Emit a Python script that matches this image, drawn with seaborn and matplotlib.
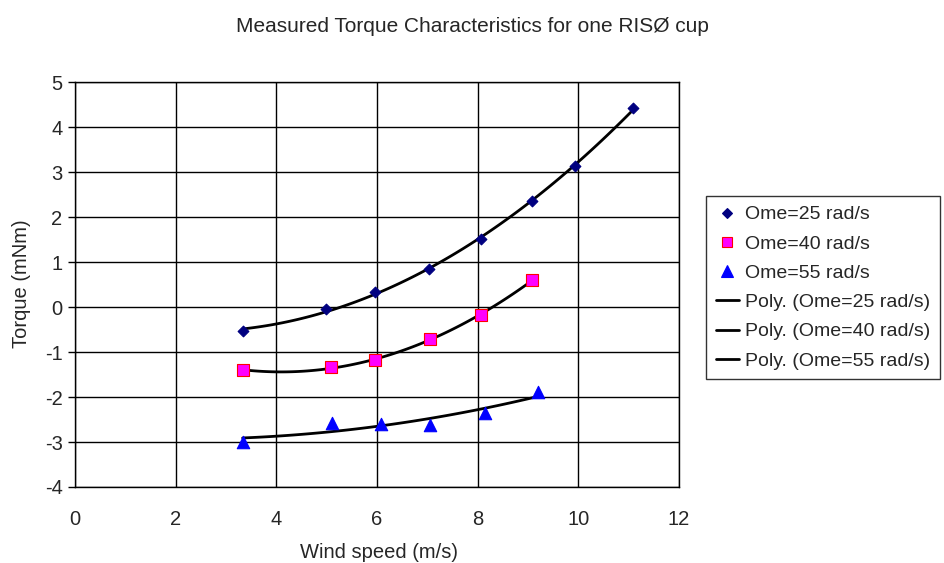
import matplotlib
matplotlib.use("Agg")
import matplotlib.pyplot as plt
import seaborn as sns
import pandas as pd
from matplotlib.lines import Line2D

# Data
ws25 = [3.33, 4.99, 5.96, 7.03, 8.07, 9.08, 9.93, 11.09]
tq25 = [-0.53, -0.05, 0.33, 0.84, 1.51, 2.36, 3.13, 4.42]
ws40 = [3.33, 5.09, 5.96, 7.05, 8.07, 9.08]
tq40 = [-1.40, -1.34, -1.18, -0.71, -0.18, 0.60]
ws55 = [3.33, 5.11, 6.08, 7.05, 8.15, 9.20]
tq55 = [-2.99, -2.58, -2.60, -2.62, -2.36, -1.88]

labels = ["Ome=25 rad/s", "Ome=40 rad/s", "Ome=55 rad/s"]
title = "Measured Torque Characteristics for one RISØ cup"
xlabel = "Wind speed (m/s)"
ylabel = "Torque (mNm)"
xticks = [0, 2, 4, 6, 8, 10, 12]
yticks = [-4, -3, -2, -1, 0, 1, 2, 3, 4, 5]

sns.set_style("white")
plt.rcParams["font.family"] = ["Liberation Sans", "DejaVu Sans"]

fig = plt.figure(figsize=(9.44, 5.63), dpi=100)
ax = fig.add_axes([75 / 944, 1 - 487 / 563, 604 / 944, 405 / 563])

styles = [
    dict(marker="D", color="#000080", edgecolor="#000080", s=30, ms=5.5),
    dict(marker="s", color="#FF00FF", edgecolor="#FF0000", s=70, ms=7.5),
    dict(marker="^", color="#0000FF", edgecolor="#0000FF", s=80, ms=8.5),
]
series = [(ws25, tq25), (ws40, tq40), (ws55, tq55)]

handles = []
for (x, y), st, lab in zip(series, styles, labels):
    df = pd.DataFrame({"x": x, "y": y})
    sns.regplot(data=df, x="x", y="y", order=2, ci=None, scatter=False, ax=ax,
                line_kws=dict(color="black", linewidth=2, zorder=3))
for (x, y), st, lab in zip(series, styles, labels):
    df = pd.DataFrame({"x": x, "y": y})
    sns.scatterplot(data=df, x="x", y="y", ax=ax, marker=st["marker"], color=st["color"],
                    edgecolor=st["edgecolor"], s=st["s"], linewidth=0.8, zorder=4, legend=False)
    handles.append(Line2D([], [], linestyle="none", marker=st["marker"], markerfacecolor=st["color"],
                          markeredgecolor=st["edgecolor"], markersize=st["ms"], markeredgewidth=0.8,
                          label=lab))
for lab in labels:
    handles.append(Line2D([], [], color="black", linewidth=2, label="Poly. (" + lab + ")"))

ax.set_xlim(0, 12)
ax.set_ylim(-4, 5)
ax.set_xticks(xticks)
ax.set_yticks(yticks)
ax.set_xticklabels([str(t) for t in xticks])
ax.set_yticklabels([str(t) for t in yticks])
ax.grid(True, color="black", linewidth=1)
ax.set_axisbelow(True)
for sp in ax.spines.values():
    sp.set_color("black")
    sp.set_linewidth(1)
ax.tick_params(axis="x", length=0, pad=16.5, labelsize=14.5)
ax.tick_params(axis="y", length=5, width=1, color="black", pad=4, labelsize=14.5, left=True)
ax.set_xlabel("")
ax.set_ylabel("")

fig.text(379 / 944, 1 - 552 / 563, xlabel, ha="center", va="center", fontsize=14.5)
fig.text(22 / 944, 1 - 284 / 563, ylabel, ha="center", va="center", fontsize=14.5, rotation=90)
fig.text(472 / 944, 1 - 27 / 563, title, ha="center", va="center", fontsize=15)

leg = fig.legend(handles=handles, loc="upper left", bbox_to_anchor=(706 / 944, 1 - 196 / 563),
                 fontsize=14, frameon=True, fancybox=False, handlelength=1.2, handletextpad=0.3,
                 labelspacing=0.6, borderpad=0.5, borderaxespad=0)
leg.get_frame().set_edgecolor("black")
leg.get_frame().set_linewidth(1)

fig.savefig("out.png", dpi=100)
